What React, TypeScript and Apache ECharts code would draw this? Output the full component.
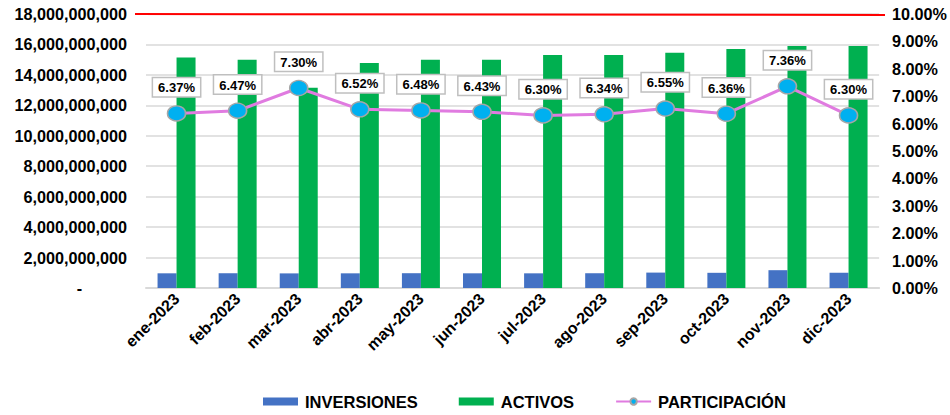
import React, { useEffect, useRef } from "react";
import * as echarts from "echarts";

const categories = ["ene-2023", "feb-2023", "mar-2023", "abr-2023", "may-2023", "jun-2023", "jul-2023", "ago-2023", "sep-2023", "oct-2023", "nov-2023", "dic-2023"];
const inversiones = [965000000, 970000000, 960000000, 964000000, 972000000, 965000000, 964000000, 970000000, 1012000000, 998000000, 1170000000, 1002000000];
const activos = [15150000000, 15000000000, 13150000000, 14780000000, 15000000000, 15000000000, 15300000000, 15300000000, 15450000000, 15700000000, 15900000000, 15900000000];
const participacion = [6.37, 6.47, 7.30, 6.52, 6.48, 6.43, 6.30, 6.34, 6.55, 6.36, 7.36, 6.30];
const topLimit = 18000000000;

const FONT = "Liberation Sans, Arial, sans-serif";

export default function App() {
  const ref = useRef<HTMLDivElement>(null);
  useEffect(() => {
    document.body.style.margin = "0";
    if (!ref.current) return;
    const chart = echarts.init(ref.current, null, { renderer: "svg" });
    chart.setOption({
      animation: false,
      textStyle: { fontFamily: FONT },
      grid: { left: 146, right: 70, top: 14, bottom: 127 },
      legend: {
        bottom: 0,
        left: 258,
        itemGap: 41,
        itemWidth: 35,
        itemHeight: 8,
        textStyle: { fontFamily: FONT, fontWeight: "bold", fontSize: 16.5, color: "#000", padding: [0, 0, 0, 2] },
        data: [
          { name: "INVERSIONES", icon: "rect" },
          { name: "ACTIVOS", icon: "rect" },
          { name: "PARTICIPACIÓN" },
        ],
      },
      xAxis: {
        type: "category",
        data: categories,
        axisTick: { show: false },
        axisLine: { lineStyle: { color: "#d9d9d9", width: 2 } },
        axisLabel: {
          rotate: 45,
          interval: 0,
          fontFamily: FONT,
          fontWeight: "bold",
          fontSize: 16,
          color: "#000",
          margin: 8,
        },
      },
      yAxis: [
        {
          type: "value",
          min: 0,
          max: topLimit,
          interval: 2000000000,
          axisLine: { show: false },
          axisTick: { show: false },
          splitLine: { lineStyle: { color: "#d9d9d9", width: 1.5 } },
          axisLabel: {
            fontFamily: FONT,
            fontWeight: "bold",
            fontSize: 16.2,
            color: "#000",
            margin: 19,
            formatter: (v: number) => (v === 0 ? "-          " : v.toLocaleString("en-US")),
          },
        },
        {
          type: "value",
          min: 0,
          max: 10,
          interval: 1,
          axisLine: { show: false },
          axisTick: { show: false },
          splitLine: { show: false },
          axisLabel: {
            fontFamily: FONT,
            fontWeight: "bold",
            fontSize: 16.2,
            color: "#000",
            margin: 13,
            formatter: (v: number) => v.toFixed(2) + "%",
          },
        },
      ],
      series: [
        {
          name: "INVERSIONES",
          type: "bar",
          data: inversiones,
          barWidth: 19,
          barGap: "0%",
          itemStyle: { color: "#4472C4" },
        },
        {
          name: "ACTIVOS",
          type: "bar",
          data: activos,
          barWidth: 19,
          barGap: "0%",
          itemStyle: { color: "#00B050" },
        },
        {
          name: "PARTICIPACIÓN",
          type: "line",
          yAxisIndex: 1,
          data: participacion,
          symbol: "circle",
          symbolSize: [18, 15],
          lineStyle: { color: "#E07BE0", width: 3 },
          itemStyle: { color: "#00B0F0", borderColor: "#A6A6A6", borderWidth: 1.5 },
          label: {
            show: true,
            position: "top",
            distance: 9,
            formatter: (p: any) => p.value.toFixed(2) + "%",
            fontFamily: FONT,
            fontWeight: "bold",
            fontSize: 13,
            color: "#000",
            backgroundColor: "#fff",
            borderColor: "#BFBFBF",
            borderWidth: 1.5,
            padding: [3, 5, 2, 5],
          },
        },
      ],
    });
    const y = chart.convertToPixel({ yAxisIndex: 0 }, topLimit) as number;
    chart.setOption({
      graphic: [
        {
          type: "line",
          shape: { x1: 135, y1: y, x2: 885, y2: y + 1 },
          style: { stroke: "#FF0000", lineWidth: 2 },
          z: 10,
        },
      ],
    });
    return () => chart.dispose();
  }, []);
  return <div ref={ref} style={{ width: 950, height: 415 }} />;
}
